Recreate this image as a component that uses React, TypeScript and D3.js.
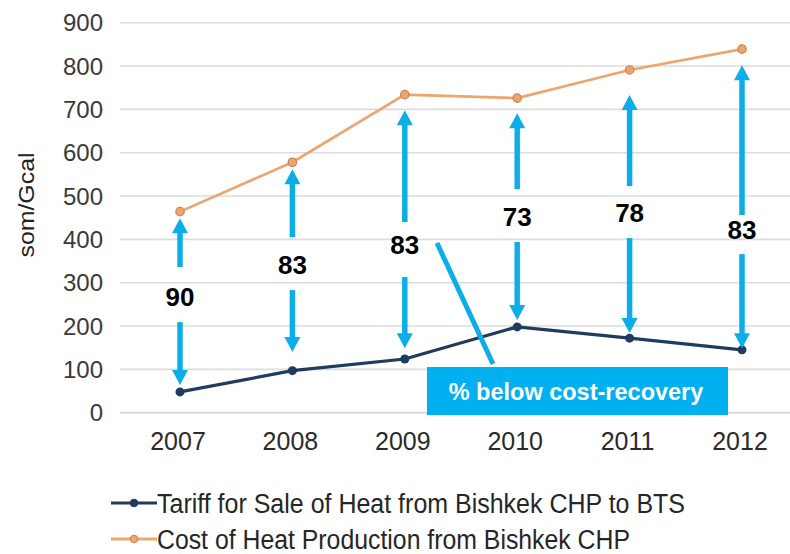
import React from "react";
import * as d3 from "d3";

const years = ["2007", "2008", "2009", "2010", "2011", "2012"];
const tariff = [48, 97, 124, 198, 172, 145];
const cost = [464, 578, 734, 726, 791, 839];
const pctBelow = ["90", "83", "83", "73", "78", "83"];
// annotation anchors in som/Gcal units
const labelAt = [267, 341, 387, 452, 461, 421];
const upTip = [449, 562, 698, 691, 733, 802];
const upTail = [336, 405, 440, 516, 523, 456];
const downTail = [209, 283, 313, 394, 403, 366];
const downTip = [64, 140, 149, 214, 184, 149];
const yTicks = [0, 100, 200, 300, 400, 500, 600, 700, 800, 900];
const seriesNames = [
  "Tariff for Sale of Heat from Bishkek CHP to BTS",
  "Cost of Heat Production from Bishkek CHP",
];
const calloutText = "% below cost-recovery";

const W = 790;
const H = 554;
const CYAN = "#0DAEE8";
const BOX = "#00B0F0";
const NAVY = "#1F3B5E";
const ORANGE = "#EBA56F";
const ORANGE_D = "#C9834F";
const FONT = "'Liberation Sans', Arial, sans-serif";

function Arrow({ x, y1, y2 }: { x: number; y1: number; y2: number }) {
  const dir = y2 < y1 ? -1 : 1;
  const headLen = 15;
  const headW = 8;
  const shaftEnd = y2 - dir * headLen;
  return (
    <g>
      <line x1={x} x2={x} y1={y1} y2={shaftEnd + dir * 1} stroke={CYAN} strokeWidth={5.5} />
      <path
        d={`M${x - headW},${shaftEnd} L${x + headW},${shaftEnd} L${x},${y2} Z`}
        fill={CYAN}
      />
    </g>
  );
}

export default function App() {
  const x = d3.scalePoint<string>().domain(years).range([180, 742]);
  const y = d3.scaleLinear().domain([0, 900]).range([412.7, 22.7]);
  const line = d3
    .line<number>()
    .x((_, i) => x(years[i]) as number)
    .y((d) => y(d));

  return (
    <svg
      width={W}
      height={H}
      style={{ position: "absolute", left: 0, top: 0, background: "#fff" }}
      fontFamily={FONT}
    >
      <rect width={W} height={H} fill="#fff" />
      {yTicks.map((t) => (
        <line
          key={t}
          x1={120}
          x2={790}
          y1={y(t)}
          y2={y(t)}
          stroke={t === 0 ? "#CFCFCF" : "#DCDCDC"}
          strokeWidth={1.6}
        />
      ))}
      {yTicks.map((t) => (
        <text
          key={t}
          x={103}
          y={y(t)}
          textAnchor="end"
          dominantBaseline="central"
          fontSize={24}
          fill="#3a3a3a"
        >
          {t}
        </text>
      ))}
      <text
        transform={`translate(34,205) rotate(-90)`}
        textAnchor="middle"
        fontSize={22}
        fill="#222"
        textLength={105}
        lengthAdjust="spacingAndGlyphs"
      >
        som/Gcal
      </text>
      {years.map((yr) => (
        <text
          key={yr}
          x={x(yr)! - 2}
          y={450}
          textAnchor="middle"
          fontSize={25}
          fill="#2a2a2a"
        >
          {yr}
        </text>
      ))}

      <path d={line(cost) || ""} fill="none" stroke={ORANGE} strokeWidth={2.6} />
      {cost.map((v, i) => (
        <circle
          key={i}
          cx={x(years[i])}
          cy={y(v)}
          r={4.2}
          fill={ORANGE}
          stroke={ORANGE_D}
          strokeWidth={1.2}
        />
      ))}
      <path d={line(tariff) || ""} fill="none" stroke={NAVY} strokeWidth={3.2} />
      {tariff.map((v, i) => (
        <circle key={i} cx={x(years[i])} cy={y(v)} r={4.5} fill={NAVY} />
      ))}

      {years.map((yr, i) => {
        const cx = x(yr) as number;
        return (
          <g key={yr}>
            <Arrow x={cx} y1={y(upTail[i])} y2={y(upTip[i])} />
            <Arrow x={cx} y1={y(downTail[i])} y2={y(downTip[i])} />
            <text
              x={cx}
              y={y(labelAt[i])}
              textAnchor="middle"
              dominantBaseline="central"
              fontSize={26}
              fontWeight="bold"
              fill="#000"
            >
              {pctBelow[i]}
            </text>
          </g>
        );
      })}

      <line x1={437} y1={243} x2={493} y2={364} stroke={CYAN} strokeWidth={5} />
      <rect x={427} y={367} width={301} height={48} fill={BOX} />
      <text
        x={576}
        y={392}
        textAnchor="middle"
        dominantBaseline="central"
        fontSize={23.5}
        fontWeight="bold"
        fill="#fff"
      >
        {calloutText}
      </text>

      {seriesNames.map((name, i) => {
        const ly = 503 + i * 36;
        const col = i === 0 ? NAVY : ORANGE;
        return (
          <g key={name}>
            <line x1={111} x2={157} y1={ly} y2={ly} stroke={col} strokeWidth={3} />
            <circle cx={134} cy={ly} r={3.8} fill={col} stroke={i === 0 ? NAVY : ORANGE_D} />
            <text
              x={157}
              y={ly + 9.5}
              fontSize={27}
              fill="#262626"
              textLength={i === 0 ? 528 : 473}
              lengthAdjust="spacingAndGlyphs"
            >
              {name}
            </text>
          </g>
        );
      })}
    </svg>
  );
}
